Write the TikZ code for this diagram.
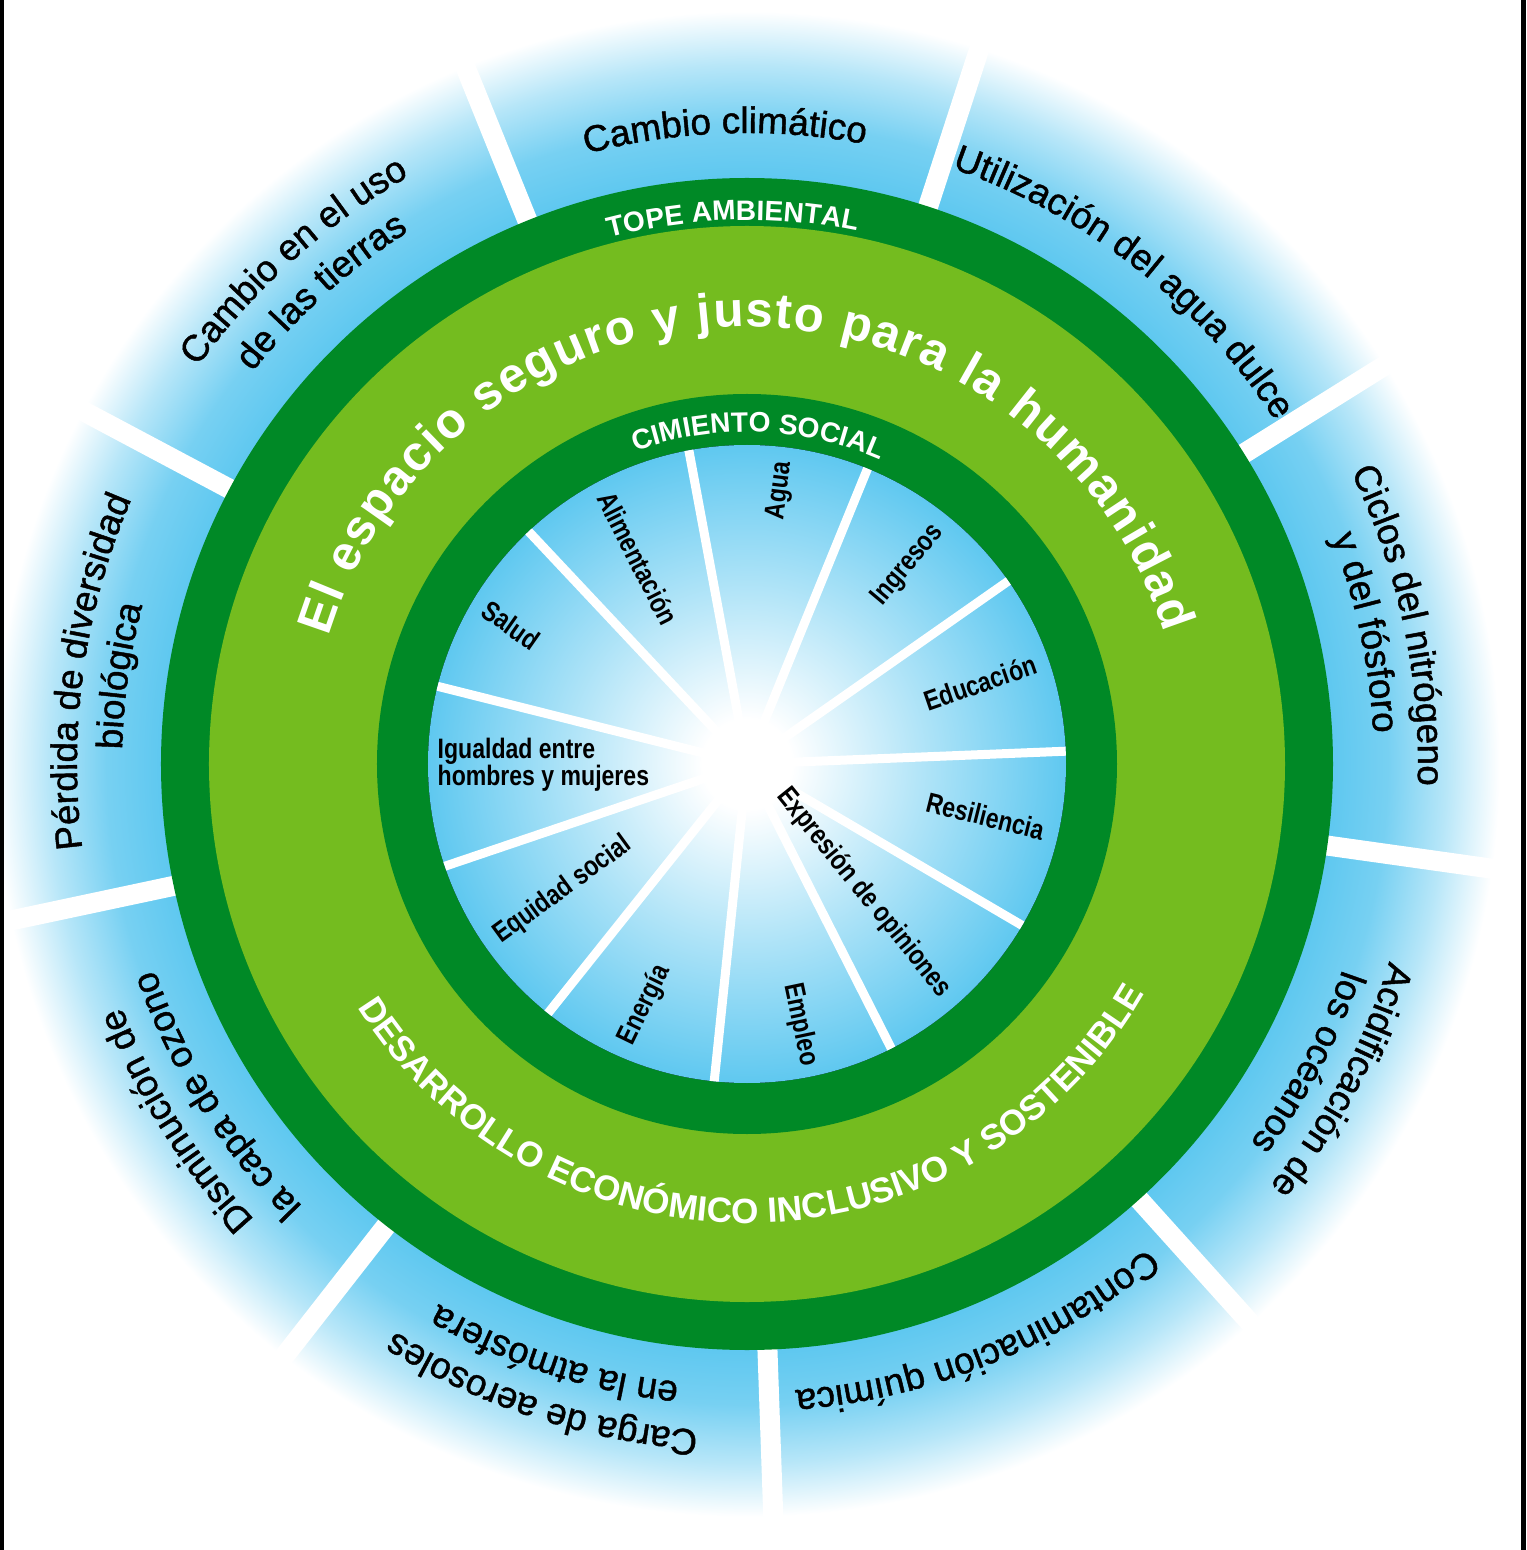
\documentclass[tikz,border=0pt]{standalone}
\usepackage{fontspec}
\setmainfont{Liberation Sans}
\newfontfamily\narrowfont[FakeStretch=0.82]{Liberation Sans}
\newfontfamily\boundfont[FakeBold=1.2]{Liberation Sans}
\usetikzlibrary{decorations.text}
\definecolor{topegreen}{RGB}{0,137,38}
\definecolor{safegreen}{RGB}{116,188,31}
\definecolor{skyb}{RGB}{95,200,240}
\colorlet{skybA}{skyb!85!white}
\colorlet{skybB}{skyb!45!white}
\colorlet{skybC}{skyb!50!white}
\pgfdeclareradialshading{outerfade}{\pgfpoint{0bp}{0bp}}{color(0bp)=(skyb); color(13.1bp)=(skyb); color(14.3bp)=(skybA); color(15.6bp)=(skybB); color(16.8bp)=(white); color(50bp)=(white)}
\pgfdeclareradialshading{innerfade}{\pgfpoint{0bp}{0bp}}{color(0bp)=(white); color(3.5bp)=(white); color(14bp)=(skybC); color(25bp)=(skyb); color(50bp)=(skyb)}
\newcommand\outerfnt{\boundfont\fontsize{10.5}{12}\selectfont}
\newcommand\topefnt{\bfseries\fontsize{8}{9}\selectfont}
\newcommand\safefnt{\bfseries\fontsize{14}{16}\selectfont}
\newcommand\econfnt{\bfseries\fontsize{10}{12}\selectfont}
\def\ringtext[#1](#2:#3:#4)#5{\path[decorate,decoration={text along path,text align=center,#1,text={#5}}] (#2:#4) arc (#2:#3:#4);}

\begin{document}
\begin{tikzpicture}[
	soc/.style={font=\narrowfont\bfseries\fontsize{8}{7.7}\selectfont, inner sep=0pt},
	gap/.style={white, line width=2mm},
	ray/.style={white, line width=0.9mm}
	]
			%%%%% START %%%%%
			
			\fill[white] (-7.47,-7.86) rectangle (7.79,7.64);
			\useasboundingbox (-7.47,-7.86) rectangle (7.79,7.64);
			
			\fill[shading=outerfade] (0,0) circle (11.2);
			
			\draw[gap] (112:5.7) -- (112:8.2);
			\draw[gap] (72:5.7) -- (72:8.2);
			\draw[gap] (32:5.7) -- (32:8.2);
			\draw[gap] (-8:5.7) -- (-8:8.2);
			\draw[gap] (-48:5.7) -- (-48:8.2);
			\draw[gap] (-88:5.7) -- (-88:8.2);
			\draw[gap] (-128:5.7) -- (-128:8.2);
			\draw[gap] (-168:5.7) -- (-168:8.2);
			\draw[gap] (152:5.7) -- (152:8.2);
			
			\fill[topegreen] (0,0) circle (5.86);
			\fill[safegreen] (0,0) circle (5.38);
			\fill[topegreen] (0,0) circle (3.70);
			\fill[shading=innerfade] (0,0) circle (3.19);
			
			\draw[ray] (0,0) -- (100.5:3.19);
			\draw[ray] (0,0) -- (67.8:3.19);
			\draw[ray] (0,0) -- (35:3.19);
			\draw[ray] (0,0) -- (2.3:3.19);
			\draw[ray] (0,0) -- (-30.4:3.19);
			\draw[ray] (0,0) -- (-63.1:3.19);
			\draw[ray] (0,0) -- (-95.9:3.19);
			\draw[ray] (0,0) -- (-128.6:3.19);
			\draw[ray] (0,0) -- (-161.3:3.19);
			\draw[ray] (0,0) -- (165.9:3.19);
			\draw[ray] (0,0) -- (133.2:3.19);
			
			\ringtext[text color=black](114:70:6.31){|\outerfnt|Cambio climático}
			\ringtext[text color=black](74:30:6.30){|\outerfnt|Utilización del agua dulce}
			\ringtext[text color=black](34:-10:6.71){|\outerfnt|Ciclos del nitrógeno}
			\ringtext[text color=black](34:-10:6.27){|\outerfnt|y del fósforo}
			\ringtext[text color=black](-6:-50:6.72){|\outerfnt|Acidificación de}
			\ringtext[text color=black](-6:-50:6.30){|\outerfnt|los océanos}
			\ringtext[text color=black](-46:-90:6.28){|\outerfnt|Contaminación química}
			\ringtext[text color=black](-86:-130:6.68){|\outerfnt|Carga de aerosoles}
			\ringtext[text color=black](-86:-130:6.22){|\outerfnt|en la atmósfera}
			\ringtext[text color=black](-126:-170:6.71){|\outerfnt|Disminución de}
			\ringtext[text color=black](-126:-170:6.27){|\outerfnt|la capa de ozono}
			\ringtext[text color=black](-166:-210:6.70){|\outerfnt|Pérdida de diversidad}
			\ringtext[text color=black](-166:-210:6.25){|\outerfnt|biológica}
			\ringtext[text color=black](154:110:6.78){|\outerfnt|Cambio en el uso}
			\ringtext[text color=black](154:110:6.31){|\outerfnt|de las tierras}
			
			\ringtext[text color=white](116:67:5.44){|\topefnt|TOPE AMBIENTAL}
			\ringtext[text color=white,text align={fit to path}](163:17.5:4.37){|\safefnt|El espacio seguro y justo para la humanidad}
			\ringtext[text color=white](118:58:3.32){|\topefnt|CIMIENTO SOCIAL}
			\ringtext[text color=white](196:346:4.59){|\econfnt|DESARROLLO ECONÓMICO INCLUSIVO Y SOSTENIBLE}
			
			\node[soc, rotate=83] (agua) at (83.1:2.75) {Agua};
			\node[soc, rotate=50] (ingresos) at (51:2.56) {Ingresos};
			\node[soc, rotate=19] (educacion) at (19.2:2.47) {Educación};
			\node[soc, rotate=-14] (resiliencia) at (-12.3:2.44) {Resiliencia};
			\node[soc, rotate=-51] (expresion) at (-47.8:1.74) {Expresión de opiniones};
			\node[soc, rotate=-78] (empleo) at (-78.5:2.66) {Empleo};
			\node[soc, rotate=64] (energia) at (-113:2.62) {Energía};
			\node[soc, rotate=36] (equidad) at (-145.6:2.23) {Equidad social};
			\node[soc, anchor=west, align=left] (igualdad) at (-3.10,-0.01) {Igualdad entre\\hombres y mujeres};
			\node[soc, rotate=-35] (salud) at (149.5:2.74) {Salud};
			\node[soc, rotate=-63] (alimentacion) at (117.9:2.33) {Alimentación};
			
			\fill[black] (-7.47,-7.86) rectangle (-7.43,7.64);
			\fill[black] (7.74,-7.86) rectangle (7.79,7.64);
			
			%%%%% END %%%%%
		\end{tikzpicture}
\end{document}
